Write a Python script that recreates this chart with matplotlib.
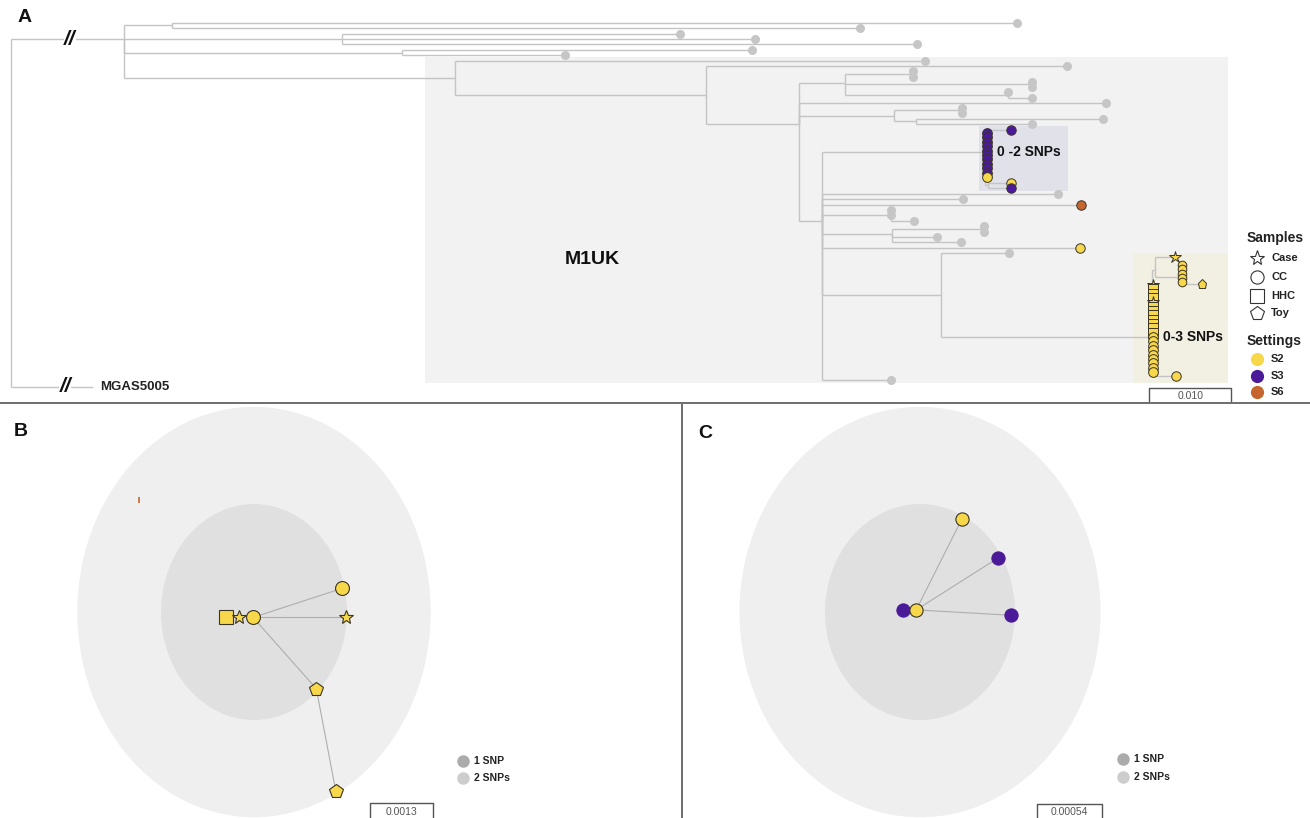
import matplotlib
matplotlib.use('Agg')
import matplotlib.pyplot as plt
from matplotlib.patches import Rectangle, Ellipse
from matplotlib.collections import LineCollection

plt.rcParams['font.family'] = ['Liberation Sans', 'DejaVu Sans']

W, H = 1310, 818

# ---------------- colours / styles ----------------
SET_COL = {'S2': '#F8D84B', 'S3': '#4A1A98', 'S6': '#C6652D'}
SAMPLE_MK = {'Case': '*', 'CC': 'o', 'HHC': 's', 'Toy': 'p'}
TIP_GRAY = '#C6C6C6'
BRANCH = '#C4C4C4'
EDGE = '#3A3424'

# ---------------- Panel A : tree data ----------------
# internal nodes (divergence = substitutions/site, row = tip order)
int_name = ['root', 'ing', 'n1', 'n2', 'n3', 'm1', 'n4', 'n5', 'n6', 'n7', 'n8', 'n9', 'n10',
            'n11', 'n12', 'n13', 'c2', 'c2b', 'n15', 'n16', 'n17', 'n14', 'c3', 'c3a', 'c3b']
int_parent = [None, 'root', 'ing', 'ing', 'ing', 'ing', 'm1', 'n4', 'n5', 'n6', 'n6', 'n6', 'n5',
              'n10', 'n10', 'n5', 'n13', 'c2', 'n13', 'n13', 'n16', 'n13', 'n14', 'c3', 'c3a']
int_div = [0.0, 0.0138, 0.0196, 0.0404, 0.0477, 0.0541, 0.0848, 0.0961, 0.1017, 0.1098, 0.1243,
           0.1216, 0.1077, 0.1158, 0.1104, 0.0989, 0.1188, 0.1191, 0.1073, 0.1074, 0.1185,
           0.1134, 0.1391, 0.1395, 0.1427]
int_row = [30.0, 3.02, 0.47, 3.02, 5.57, 10.38, 13.58, 19.06, 11.3, 9.62, 11.6, 13.58, 17.55,
           16.5, 18.58, 37.36, 24.34, 30.66, 36.23, 39.81, 38.87, 51.32, 59.25, 46.6, 47.92]

# reference (context) genomes - grey tips
ref_parent = ['n1', 'n1', 'n2', 'n2', 'n2', 'n3', 'n3', 'm1', 'n4', 'n7', 'n7', 'n8', 'n8', 'n9',
              'n9', 'n5', 'n11', 'n11', 'n12', 'n12', 'n13', 'n13', 'n15', 'n15', 'n15', 'n17',
              'n17', 'n16', 'n16', 'n14', 'n13']
ref_div = [0.1227, 0.1035, 0.0816, 0.0907, 0.1105, 0.0904, 0.0676, 0.1115, 0.1288, 0.1100, 0.1100,
           0.1245, 0.1245, 0.1216, 0.1245, 0.1335, 0.1160, 0.1160, 0.1332, 0.1245, 0.1277, 0.1161,
           0.1073, 0.1073, 0.1101, 0.1187, 0.1187, 0.1129, 0.1159, 0.1217, 0.1073]
ref_row = [0.00, 0.94, 2.08, 3.02, 3.96, 5.09, 6.04, 7.17, 8.11, 9.06, 10.19, 11.13, 12.08, 13.02,
           14.15, 15.09, 16.04, 16.98, 18.11, 19.06, 32.26, 33.21, 35.28, 36.23, 37.36, 38.30,
           39.43, 40.38, 41.32, 43.40, 67.36]

# outgroup
out_label = 'MGAS5005'
out_div = 0.0100
out_row = 68.68

# study isolates outside / inside clusters
iso_parent = ['n13', 'n13', 'c2', 'c2b', 'c2b', 'c3a', 'c3b', 'c3']
iso_div = [0.1305, 0.1304, 0.1220, 0.1220, 0.1220, 0.1420, 0.1452, 0.1421]
iso_row = [34.34, 42.45, 20.19, 30.19, 31.13, 44.15, 49.25, 66.60]
iso_setting = ['S6', 'S2', 'S3', 'S2', 'S3', 'S2', 'S2', 'S2']
iso_sample = ['CC', 'CC', 'CC', 'CC', 'CC', 'Case', 'Toy', 'CC']

# 0-2 SNP cluster stack (parent c2)
c2_div = 0.1190
c2_rows = [20.75, 21.58, 22.41, 23.24, 24.07, 24.90, 25.73, 26.56, 27.39, 28.22, 29.06]
c2_settings = ['S3', 'S3', 'S3', 'S3', 'S3', 'S3', 'S3', 'S3', 'S3', 'S3', 'S2']

# 0-3 SNP cluster: small stack (parent c3b) and main stack (parent c3)
c3b_div = 0.1428
c3b_rows = [45.66, 46.47, 47.28, 48.09, 48.90]
c3_div = 0.1393
c3_rows = [49.43, 50.25, 51.07, 51.89, 52.71, 53.53, 54.35, 55.17, 55.99, 56.81, 57.63, 58.45,
           59.27, 60.09, 60.91, 61.73, 62.55, 63.37, 64.19, 65.01, 65.83]
c3_samples = ['Case', 'HHC', 'HHC', 'HHC', 'Case', 'HHC', 'HHC', 'HHC', 'HHC', 'HHC', 'HHC', 'HHC',
              'CC', 'CC', 'CC', 'CC', 'CC', 'CC', 'CC', 'CC', 'CC']

# highlighted clades: (div_min, div_max, row_min, row_max) and label anchor
clade_labels = ['M1UK', '0 -2 SNPs', '0-3 SNPs']
clade_div0 = [0.0505, 0.1180, 0.1368]
clade_div1 = [0.1484, 0.1289, 0.1484]
clade_row0 = [6.42, 19.43, 43.40]
clade_row1 = [67.90, 31.70, 67.90]
clade_col = ['#F2F2F2', '#E1E1EA', '#F2EFE3']
clade_label_div = [0.0709, 0.1202, 0.1405]
clade_label_row = [44.7, 24.3, 59.25]

scale_a = 0.010

# ---------------- Panels B / C : SNP networks ----------------
ring_snps = ['1 SNP', '2 SNPs']
ring_radius = [1.0, 1.9]
ring_col = ['#E0E0E0', '#EFEFEF']
ring_legend_col = ['#ABABAB', '#CDCDCD']

net_b_x = [-0.30, -0.16, -0.01, 0.95, 0.99, 0.67, 0.88]
net_b_y = [-0.05, -0.05, -0.05, 0.22, -0.05, -0.71, -1.66]
net_b_sample = ['HHC', 'Case', 'CC', 'CC', 'Case', 'Toy', 'Toy']
net_b_setting = ['S2', 'S2', 'S2', 'S2', 'S2', 'S2', 'S2']
net_b_edges = [(2, 3), (2, 4), (2, 5), (5, 6)]
net_b_extra = (-1.24, 1.04)  # tiny S6 mark
scale_b = '0.0013'

net_c_x = [-0.18, -0.04, 0.44, 0.82, 0.96]
net_c_y = [0.02, 0.02, 0.86, 0.50, -0.03]
net_c_setting = ['S3', 'S2', 'S2', 'S3', 'S3']
net_c_edges = [(1, 2), (1, 3), (1, 4)]
scale_c = '0.00054'

# =====================================================
fig = plt.figure(figsize=(W / 100, H / 100), dpi=100)
fig.patch.set_facecolor('white')

# ---------------- Panel A ----------------
axA = fig.add_axes([0, 1 - 403 / H, 1, 403 / H])
axA.set_xlim(-0.00134, 0.15841)
axA.set_ylim(71.7, -4.34)
axA.axis('off')

for x0, x1, r0, r1, col in zip(clade_div0, clade_div1, clade_row0, clade_row1, clade_col):
    axA.add_patch(Rectangle((x0, r0), x1 - x0, r1 - r0, facecolor=col, edgecolor='none', zorder=0))

pos = {n: (d, r) for n, d, r in zip(int_name, int_div, int_row)}
segs = []


def add_edge(parent, d, r):
    pd, pr = pos[parent]
    segs.append([(pd, r), (d, r)])
    segs.append([(pd, pr), (pd, r)])


for n, p in zip(int_name, int_parent):
    if p is not None:
        add_edge(p, *pos[n])
for p, d, r in zip(ref_parent, ref_div, ref_row):
    add_edge(p, d, r)
add_edge('root', out_div, out_row)
for p, d, r in zip(iso_parent, iso_div, iso_row):
    add_edge(p, d, r)
for r in c2_rows:
    add_edge('c2', c2_div, r)
for r in c3b_rows:
    add_edge('c3b', c3b_div, r)
for r in c3_rows:
    add_edge('c3', c3_div, r)

axA.add_collection(LineCollection(segs, colors=BRANCH, linewidths=1.0, zorder=1))

# broken branches
for bx, by in [(0.0072, pos['ing'][1]), (0.0066, out_row)]:
    axA.text(bx, by, '//', fontsize=15, fontweight='bold', style='italic',
             ha='center', va='center', zorder=4, color='#111111',
             bbox=dict(facecolor='white', edgecolor='none', pad=0.3))
axA.text(out_div + 0.0009, out_row, out_label, fontsize=9.5, fontweight='bold',
         ha='left', va='center', color='#222222')

# grey tips
axA.plot(ref_div, ref_row, 'o', ms=6.5, color=TIP_GRAY, mec='none', zorder=3)


def iso_marker(ax, x, y, setting, sample, ms):
    mk = SAMPLE_MK[sample]
    size = ms * 1.3 if mk == '*' else ms
    ax.plot([x], [y], marker=mk, ms=size, color=SET_COL[setting], mec=EDGE, mew=0.7,
            linestyle='none', zorder=3)


for r, s in zip(c2_rows, c2_settings):
    iso_marker(axA, c2_div, r, s, 'CC', 7.0)
for r in c3b_rows:
    iso_marker(axA, c3b_div, r, 'S2', 'CC', 6.2)
for r, smp in zip(c3_rows, c3_samples):
    iso_marker(axA, c3_div, r, 'S2', smp, 7.0)
for d, r, s, smp in zip(iso_div, iso_row, iso_setting, iso_sample):
    iso_marker(axA, d, r, s, smp, 6.8)

# clade labels
for lab, lx, ly, fs, ha in zip(clade_labels, clade_label_div, clade_label_row,
                               [14, 10, 10], ['center', 'left', 'left']):
    axA.text(lx, ly, lab, fontsize=fs, fontweight='bold', ha=ha, va='center',
             color='#111111', zorder=5)

# scale bar A
sx0 = 0.1388
axA.plot([sx0, sx0, sx0 + scale_a, sx0 + scale_a], [71.6, 68.87, 68.87, 71.6],
         color='#555555', lw=1.0, zorder=2)
axA.text(sx0 + scale_a / 2, 70.35, f'{scale_a:.3f}', fontsize=7.5, color='#555555',
         ha='center', va='center')


# ---------------- Panels B / C ----------------
def network_axes(rect, xlim):
    ax = fig.add_axes(rect)
    ax.set_xlim(*xlim)
    ax.set_ylim(-1.907, 1.917)
    ax.axis('off')
    for rad, col in sorted(zip(ring_radius, ring_col), reverse=True):
        ax.add_patch(Ellipse((0, 0), 2 * rad, 2 * rad, facecolor=col, edgecolor='none', zorder=0))
    return ax


axB = network_axes([0, 0, 682 / W, 413 / H], (-2.731, 4.602))
for i, j in net_b_edges:
    axB.plot([net_b_x[i], net_b_x[j]], [net_b_y[i], net_b_y[j]], color='#AEAEAE', lw=0.8, zorder=1)
for x, y, smp, s in zip(net_b_x, net_b_y, net_b_sample, net_b_setting):
    mk = SAMPLE_MK[smp]
    ms = {'*': 10, 'o': 10, 's': 9.5, 'p': 10.5}[mk]
    axB.plot([x], [y], marker=mk, ms=ms, color=SET_COL[s], mec=EDGE, mew=0.8, zorder=3)
axB.plot([net_b_extra[0]], [net_b_extra[1]], marker='|', ms=4, color=SET_COL['S6'], mew=1.2, zorder=3)

axC = network_axes([682 / W, 0, (W - 682) / W, 413 / H], (-2.505, 4.105))
for i, j in net_c_edges:
    axC.plot([net_c_x[i], net_c_x[j]], [net_c_y[i], net_c_y[j]], color='#AEAEAE', lw=0.8, zorder=1)
for x, y, s in zip(net_c_x, net_c_y, net_c_setting):
    axC.plot([x], [y], marker='o', ms=9.5, color=SET_COL[s],
             mec=EDGE if s == 'S2' else SET_COL[s], mew=0.8, zorder=3)

# ---------------- overlay (layout, legends, letters) ----------------
ov = fig.add_axes([0, 0, 1, 1], zorder=10)
ov.set_xlim(0, W)
ov.set_ylim(H, 0)
ov.axis('off')
ov.patch.set_alpha(0)

# dividers
ov.plot([0, W], [403, 403], color='#6E6E6E', lw=1.4)
ov.plot([682, 682], [405, H], color='#6E6E6E', lw=1.4)

# panel letters
for lab, x, y in [('A', 25, 18), ('B', 21, 432), ('C', 705, 433)]:
    ov.text(x, y, lab, fontsize=14, fontweight='bold', ha='center', va='center', color='#111111')

# legend A
ov.text(1247, 238, 'Samples', fontsize=10, fontweight='bold', ha='left', va='center', color='#222222')
for (smp, y) in zip(['Case', 'CC', 'HHC', 'Toy'], [258, 277, 296, 313]):
    mk = SAMPLE_MK[smp]
    ms = {'*': 11, 'o': 9.5, 's': 9.5, 'p': 10}[mk]
    ov.plot([1257], [y], marker=mk, ms=ms, mfc='white', mec='#333333', mew=0.8)
    ov.text(1271, y, smp, fontsize=8, fontweight='bold', ha='left', va='center', color='#222222')
ov.text(1247, 341, 'Settings', fontsize=10, fontweight='bold', ha='left', va='center', color='#222222')
for (s, y) in zip(['S2', 'S3', 'S6'], [359, 376, 392]):
    ov.plot([1257], [y], marker='o', ms=9.5, color=SET_COL[s], mec='none')
    ov.text(1271, y, s, fontsize=8, fontweight='bold', ha='left', va='center', color='#222222')

# legends B / C
for lx, lys in [(463, (761, 778)), (1123, (759, 777))]:
    for lab, col, y in zip(ring_snps, ring_legend_col, lys):
        ov.plot([lx], [y], marker='o', ms=9, color=col, mec='none')
        ov.text(lx + 11, y, lab, fontsize=7.5, fontweight='bold', ha='left', va='center', color='#222222')

# scale bars B / C
for x0, x1, top, lab in [(370, 433, 803, scale_b), (1037, 1102, 804, scale_c)]:
    ov.plot([x0, x0, x1, x1], [H, top, top, H], color='#555555', lw=1.0)
    ov.text((x0 + x1) / 2, 812, lab, fontsize=7.5, color='#555555', ha='center', va='center')

fig.savefig('out.png', dpi=100)
